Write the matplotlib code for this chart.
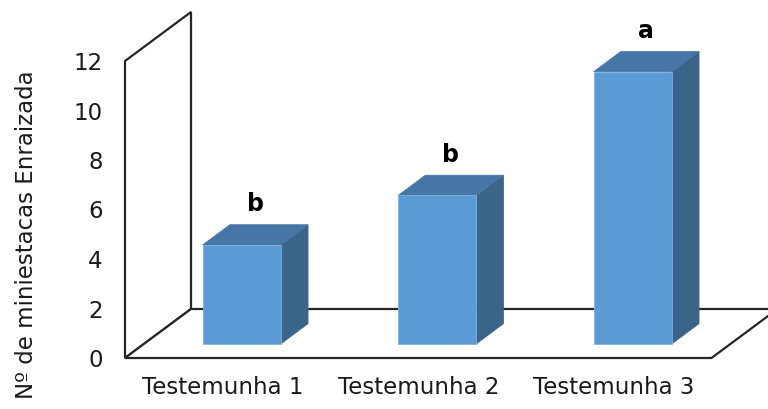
import numpy as np
import matplotlib.pyplot as plt
from matplotlib.patches import Polygon

plt.rcParams['font.family'] = ['DejaVu Sans']

categorias = ['Testemunha 1', 'Testemunha 2', 'Testemunha 3']
valores = [4, 6, 11]
letras = ['b', 'b', 'a']
yticks = [0, 2, 4, 6, 8, 10, 12]

# oblique projection of the depth axis (data units for a full floor depth)
dx, dy = 0.3376, 1.98
d0, d1 = 0.286, 0.70          # bar depth span on the floor
larg = 0.4                    # bar width

cor_frente = '#5B9BD5'
cor_topo = '#4676A6'
cor_lado = '#3B6489'
cor_linha = '#262626'


def proj(x, y, d):
    return (x + d * dx, y + d * dy)


fig = plt.figure(figsize=(7.68, 4.09), dpi=100)
ax = fig.add_axes([125 / 768, 51 / 409, 643 / 768, 346 / 409])
ax.set_xlim(-0.5, -0.5 + 643 / 195.5)
ax.set_ylim(0, 346 / 24.75)

n = len(categorias)
x0, x1 = -0.5, n - 0.5
ymax = yticks[-1]

# back wall on the left
parede = [proj(x0, 0, 0), proj(x0, ymax, 0), proj(x0, ymax, 1), proj(x0, 0, 1)]
ax.add_patch(Polygon(parede, closed=True, facecolor='white', edgecolor=cor_linha,
                     lw=1.6, joinstyle='miter', clip_on=False, zorder=1))

# floor
piso = [proj(x0, 0, 0), proj(x1, 0, 0), proj(x1, 0, 1), proj(x0, 0, 1)]
ax.add_patch(Polygon(piso, closed=True, facecolor='white', edgecolor=cor_linha,
                     lw=1.6, joinstyle='miter', clip_on=False, zorder=1))

# 3D bars
for i, v in enumerate(valores):
    a, b = i - larg / 2, i + larg / 2
    frente = [proj(a, 0, d0), proj(b, 0, d0), proj(b, v, d0), proj(a, v, d0)]
    topo = [proj(a, v, d0), proj(b, v, d0), proj(b, v, d1), proj(a, v, d1)]
    lado = [proj(b, 0, d0), proj(b, 0, d1), proj(b, v, d1), proj(b, v, d0)]
    ax.add_patch(Polygon(lado, closed=True, facecolor=cor_lado, edgecolor=cor_lado,
                         lw=0.5, clip_on=False, zorder=3))
    ax.add_patch(Polygon(topo, closed=True, facecolor=cor_topo, edgecolor=cor_topo,
                         lw=0.5, clip_on=False, zorder=3))
    ax.add_patch(Polygon(frente, closed=True, facecolor=cor_frente, edgecolor='#7FB2E0',
                         lw=0.6, clip_on=False, zorder=4))
    tx = proj(i, v, (d0 + d1) / 2)[0]
    ty = proj(i, v, d1)[1]
    ax.annotate(letras[i], (tx, ty), xytext=(0, 6),
                textcoords='offset points', ha='center', va='bottom',
                fontsize=17, fontweight='bold', color='black', zorder=5)

ax.set_xticks(range(n))
ax.set_xticklabels(categorias)
ax.set_yticks(yticks)
ax.tick_params(axis='x', length=0, pad=13, labelsize=16.5, colors='#1a1a1a')
ax.tick_params(axis='y', length=0, pad=16, labelsize=16.5, colors='#1a1a1a')
for s in ax.spines.values():
    s.set_visible(False)
ax.set_facecolor('none')

ax.set_ylabel('Nº de miniestacas Enraizada', fontsize=16.5, color='#1a1a1a')
ax.yaxis.set_label_coords(-0.135, 0.355)

fig.savefig('out.png', dpi=100)
